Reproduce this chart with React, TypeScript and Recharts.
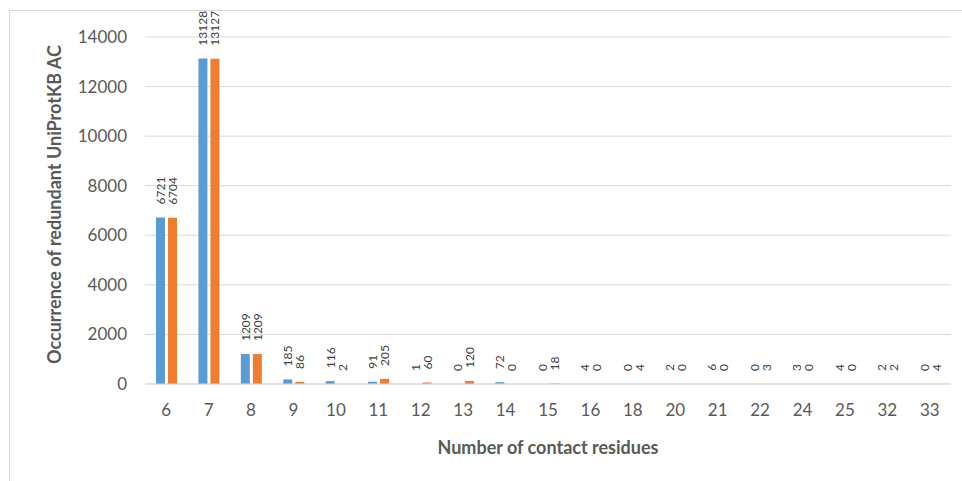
import React from "react";
import { BarChart, Bar, XAxis, YAxis, CartesianGrid, LabelList, Label } from "recharts";

const residues = ["6", "7", "8", "9", "10", "11", "12", "13", "14", "15", "16", "18", "20", "21", "22", "24", "25", "32", "33"];
const seriesA = [6721, 13128, 1209, 185, 116, 91, 1, 0, 72, 0, 4, 0, 2, 6, 0, 3, 4, 2, 0];
const seriesB = [6704, 13127, 1209, 86, 2, 205, 60, 120, 0, 18, 0, 4, 0, 0, 3, 0, 0, 2, 4];
const yTicks = [0, 2000, 4000, 6000, 8000, 10000, 12000, 14000];

const data = residues.map((r, i) => ({ residues: r, a: seriesA[i], b: seriesB[i] }));

const FONT = "Lato, 'Open Sans', sans-serif";
const TEXT = "#595959";

// rotated value label sitting above each bar
function BarValue(props: any) {
  const { x, y, width, value } = props;
  const cx = x + width / 2;
  const top = y - 13;
  return (
    <text
      x={cx}
      y={top}
      transform={`rotate(-90 ${cx} ${top})`}
      textAnchor="start"
      dominantBaseline="central"
      fontSize={12}
      fontFamily={FONT}
      fill="#404040"
    >
      {value}
    </text>
  );
}

// keep zero bars in the layout so their labels still show
const tinyForZero = (v: any) => (v === 0 ? 0.01 : 0);

export default function App() {
  return (
    <div style={{ position: "fixed", left: 0, top: 0, width: 962, height: 481, background: "#fff" }}>
      <div
        style={{
          position: "absolute",
          left: 9,
          top: 10,
          width: 960,
          height: 480,
          borderLeft: "1px solid #d9d9d9",
          borderTop: "1px solid #d9d9d9",
        }}
      />
      <BarChart
        width={962}
        height={481}
        data={data}
        margin={{ top: 37, right: 11, left: 45, bottom: 47 }}
        barSize={9}
        barGap={3}
        style={{ position: "absolute", left: 0, top: 0 }}
      >
        <CartesianGrid vertical={false} stroke="#d9d9d9" strokeWidth={1} />
        <XAxis
          dataKey="residues"
          tickLine={false}
          axisLine={{ stroke: "#d9d9d9" }}
          tickSize={0}
          tickMargin={20}
          height={50}
          tick={{ fontSize: 17, fill: TEXT, fontFamily: FONT }}
          interval={0}
        >
          <Label
            content={({ viewBox }: any) => (
              <text
                x={viewBox.x + viewBox.width / 2}
                y={447}
                textAnchor="middle"
                dominantBaseline="central"
                fontSize={18}
                fontWeight={700}
                fontFamily={FONT}
                fill={TEXT}
              >
                Number of contact residues
              </text>
            )}
          />
        </XAxis>
        <YAxis
          domain={[0, 14000]}
          ticks={yTicks}
          tickLine={false}
          axisLine={false}
          tickSize={0}
          tickMargin={18}
          width={100}
          tick={{ fontSize: 17, fill: TEXT, fontFamily: FONT }}
        >
          <Label
            content={({ viewBox }: any) => {
              const cx = 54;
              const cy = viewBox.y + viewBox.height / 2 - 6;
              return (
                <text
                  x={cx}
                  y={cy}
                  transform={`rotate(-90 ${cx} ${cy})`}
                  textAnchor="middle"
                  dominantBaseline="central"
                  fontSize={18}
                  fontWeight={700}
                  fontFamily={FONT}
                  fill={TEXT}
                >
                  Occurrence of redundant UniProtKB AC
                </text>
              );
            }}
          />
        </YAxis>
        <Bar dataKey="a" fill="#5B9BD5" minPointSize={tinyForZero} isAnimationActive={false}>
          <LabelList dataKey="a" content={BarValue} />
        </Bar>
        <Bar dataKey="b" fill="#ED7D31" minPointSize={tinyForZero} isAnimationActive={false}>
          <LabelList dataKey="b" content={BarValue} />
        </Bar>
      </BarChart>
    </div>
  );
}
